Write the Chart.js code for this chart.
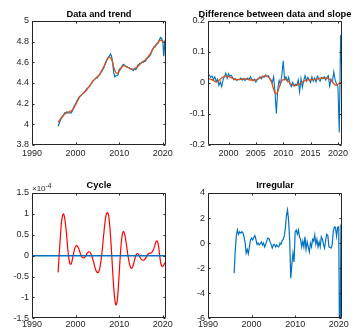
<!DOCTYPE html>
<html>
<head>
<meta charset="utf-8">
<script src="https://cdn.jsdelivr.net/npm/chart.js@4.4.1/dist/chart.umd.min.js"></script>
<style>
  body { margin: 0; background: #fff; overflow: hidden; }
  canvas { position: absolute; }
</style>
</head>
<body>
<canvas id="dataTrend" width="178" height="168" style="left:0;top:0"></canvas>
<canvas id="diffSlope" width="177" height="168" style="left:178px;top:0"></canvas>
<canvas id="cycle" width="178" height="163" style="left:0;top:168px"></canvas>
<canvas id="irregular" width="177" height="163" style="left:178px;top:168px"></canvas>
<script>
// quarterly dates, 1996Q1 .. 2020Q4
const quarters = [];
for (let y = 1996; y <= 2020; y++) {
    for (let q = 0; q < 4; q++) quarters.push(y + q / 4);
}

const logData = [
    3.98, 4.01, 4.04, 4.06, 4.07, 4.09, 4.11, 4.11, 4.12, 4.11, 4.11, 4.11, 4.11, 4.13, 4.16, 4.18,
    4.20, 4.22, 4.24, 4.26, 4.27, 4.28, 4.29, 4.30, 4.31, 4.32, 4.34, 4.35, 4.36, 4.37, 4.39, 4.40,
    4.42, 4.43, 4.44, 4.45, 4.45, 4.47, 4.48, 4.50, 4.51, 4.53, 4.55, 4.58, 4.60, 4.63, 4.65, 4.66,
    4.68, 4.66, 4.60, 4.50, 4.46, 4.47, 4.47, 4.48, 4.53, 4.54, 4.55, 4.57, 4.58, 4.57, 4.56, 4.56,
    4.55, 4.55, 4.54, 4.54, 4.53, 4.52, 4.54, 4.53, 4.54, 4.57, 4.58, 4.59, 4.59, 4.60, 4.60, 4.61,
    4.61, 4.63, 4.64, 4.65, 4.66, 4.68, 4.71, 4.73, 4.75, 4.75, 4.77, 4.78, 4.79, 4.82, 4.84, 4.83,
    4.81, 4.66, 4.81, 4.82
];

const trend = [
    4.02, 4.035, 4.05, 4.065, 4.08, 4.09, 4.10, 4.105, 4.11, 4.115, 4.12, 4.125, 4.13, 4.14, 4.15, 4.17,
    4.19, 4.21, 4.23, 4.25, 4.27, 4.28, 4.29, 4.30, 4.31, 4.32, 4.33, 4.345, 4.36, 4.375, 4.39, 4.405,
    4.42, 4.43, 4.44, 4.45, 4.46, 4.47, 4.48, 4.50, 4.52, 4.54, 4.56, 4.585, 4.61, 4.63, 4.645, 4.65,
    4.645, 4.63, 4.60, 4.555, 4.52, 4.50, 4.495, 4.50, 4.515, 4.53, 4.545, 4.56, 4.565, 4.565, 4.56, 4.555,
    4.55, 4.545, 4.54, 4.535, 4.535, 4.535, 4.54, 4.545, 4.55, 4.56, 4.57, 4.58, 4.59, 4.60, 4.61, 4.615,
    4.625, 4.635, 4.645, 4.66, 4.675, 4.69, 4.71, 4.73, 4.745, 4.76, 4.77, 4.785, 4.80, 4.81, 4.815, 4.81,
    4.80, 4.795, 4.795, 4.795
];

// first differences start one quarter later (1996Q2)
const dataDiff = [
    0.030, 0.025, 0.018,
    0.022, 0.012, 0.020, 0.005,   0.012, -0.008, 0.004, -0.012,   0.010, 0.020, 0.032, 0.015,
    0.030, 0.022, 0.025, 0.018,   0.010, 0.014, 0.008, 0.012,    0.010, 0.016, 0.009, 0.014,
    0.008, 0.012, 0.016, 0.010,   0.020, 0.012, 0.008, 0.013,    0.003, 0.010, 0.014, 0.020,
    0.013, 0.022, 0.018, 0.026,   0.020, 0.024, 0.016, 0.010,    0.002, 0.020, -0.030, -0.098,
    -0.020, 0.008, -0.004, 0.025, 0.072, 0.012, 0.020, 0.005,    0.018, -0.004, -0.012, 0.002,
    -0.010, -0.004, -0.006, 0.010, -0.028, 0.014, -0.014, 0.008, 0.024, 0.006, 0.018, 0.010,
    0.002, 0.020, 0.006, 0.016,   0.004, 0.022, 0.012, 0.006,    0.018, 0.014, 0.020, 0.010,
    0.018, 0.024, -0.010, 0.012,  0.004, 0.036, 0.010, -0.004,   -0.010, -0.160, 0.155, 0.004
];

const trendSlope = [
    0.014, 0.013, 0.012,
    0.011, 0.008, 0.005, 0.003,   0.004, 0.008, 0.012, 0.016,   0.019, 0.021, 0.022, 0.022,
    0.021, 0.019, 0.017, 0.015,   0.013, 0.012, 0.011, 0.011,   0.012, 0.012, 0.013, 0.013,
    0.013, 0.013, 0.012, 0.011,   0.010, 0.009, 0.008, 0.009,   0.010, 0.012, 0.014, 0.017,
    0.019, 0.021, 0.022, 0.022,   0.022, 0.020, 0.015, 0.007,   -0.005, -0.020, -0.032, -0.035,
    -0.028, -0.015, -0.002, 0.007, 0.011, 0.012, 0.011, 0.008,  0.004, 0.000, -0.004, -0.007,
    -0.008, -0.008, -0.007, -0.005, -0.003, 0.000, 0.003, 0.006, 0.008, 0.009, 0.010, 0.010,
    0.010, 0.010, 0.010, 0.011,   0.012, 0.013, 0.014, 0.015,   0.016, 0.016, 0.016, 0.016,
    0.015, 0.014, 0.012, 0.009,   0.004, -0.002, -0.006, -0.007, -0.004, -0.001, 0.001, 0.002
];

// cycle, in units of 1e-4
const cycle = [
    -0.40, 0.05, 0.42, 0.78,   0.95, 1.00, 0.90, 0.70,    0.42, 0.12, -0.10, -0.20,
    -0.20, -0.10, 0.03, 0.15,  0.22, 0.24, 0.22, 0.16,    0.08, 0.01, -0.04, -0.05,
    -0.05, -0.02, 0.03, 0.07,  0.09, 0.09, 0.05, -0.02,   -0.10, -0.20, -0.30, -0.37,
    -0.40, -0.40, -0.33, -0.18, 0.02, 0.28, 0.55, 0.80,   0.97, 1.03, 1.00, 0.82,
    0.50, 0.10, -0.35, -0.75,  -1.05, -1.18, -1.12, -0.85, -0.45, -0.02, 0.32, 0.52,
    0.58, 0.52, 0.38, 0.20,    0.02, -0.14, -0.25, -0.30, -0.29, -0.22, -0.12, -0.02,
    0.04, 0.05, 0.02, -0.03,   -0.08, -0.10, -0.11, -0.10, -0.07, -0.03, 0.02, 0.05,
    0.06, 0.06, 0.08, 0.12,    0.18, 0.27, 0.34, 0.35,    0.25, 0.05, -0.15, -0.25,
    -0.26, -0.22, -0.17, -0.14
];

const irregular = [
    -2.4, -0.6, 0.6, 1.05,    0.7, 0.9, 0.8, 0.9,       0.85, 0.5, 0.1, -0.8,
    -0.5, -0.85, -0.3, 0.25,  0.4, 0.25, 0.45, 0.6,     0.3, -0.1, 0.0, -0.15,
    -0.05, 0.1, -0.15, 0.0,   -0.3, -0.1, 0.2, 0.4,     0.35, 0.1, -0.1, -0.4,
    -0.15, -0.1, -0.3, -0.15, -0.25, -0.3, 0.0, -0.1,   0.2, 0.3, 0.55, 1.2,
    2.2, 2.65, 1.8, 0.2,      -2.8, -1.7, -0.8, -1.5,   0.9, 1.05, 0.7, 1.05,
    0.5, 0.3, -0.3, 0.15,     -0.3, 0.5, -0.5, 0.1,     -0.3, -0.7, 0.0, -0.3,
    0.3, 0.15, 0.65, -0.1,    0.3, -0.3, 0.1, -0.3,     0.5, 0.3, -0.1, -0.4,
    0.25, 0.7, 0.6, -0.3,     -0.35, -0.4, -0.1, 0.9,   1.3, 1.25, 0.55, 1.25,
    1.3, -12, 1.4, 1.3
];

const yearTicksWide = { min: 1990, max: 2020.75, step: 10 };
const yearTicksNarrow = { min: 1996.25, max: 2020.75, step: 5 };

const blue = '#0072BD';
const orange = '#D95319';
const red = '#FF0000';
const axisGray = '#262626';
const fontFamily = '"Liberation Sans", Arial, Helvetica, sans-serif';

const pts = (xs, ys) => ys.map((v, i) => ({ x: xs[i], y: v }));
// 4 rather than 4.0, like matlab does
const plainNumber = v => String(Math.round(v * 1e6) / 1e6);

// matlab-like box: full frame plus short ticks pointing inwards
const boxAndTicks = {
    id: 'boxAndTicks',
    afterDatasetsDraw(chart) {
        const { ctx, chartArea: a, scales: { x, y } } = chart;
        const L = Math.round(a.left) + 0.5, R = Math.round(a.right) - 0.5;
        const T = Math.round(a.top) + 0.5, B = Math.round(a.bottom) - 0.5;
        ctx.save();
        ctx.strokeStyle = axisGray;
        ctx.lineWidth = 1;
        ctx.beginPath();
        ctx.rect(L, T, R - L, B - T);
        x.ticks.forEach(t => {
            const px = Math.round(x.getPixelForValue(t.value)) + 0.5;
            ctx.moveTo(px, B); ctx.lineTo(px, B - 2);
            ctx.moveTo(px, T); ctx.lineTo(px, T + 2);
        });
        y.ticks.forEach(t => {
            const py = Math.round(y.getPixelForValue(t.value)) + 0.5;
            ctx.moveTo(L, py); ctx.lineTo(L + 2, py);
            ctx.moveTo(R, py); ctx.lineTo(R - 2, py);
        });
        ctx.stroke();
        ctx.restore();
    }
};

// bold title centred over the plot area, optional x10^n multiplier
const panelTitle = {
    id: 'panelTitle',
    afterDraw(chart, args, opts) {
        const { ctx, chartArea: a } = chart;
        ctx.save();
        ctx.fillStyle = '#000';
        ctx.font = 'bold 9.3px ' + fontFamily;
        ctx.textAlign = 'center';
        ctx.textBaseline = 'middle';
        ctx.fillText(opts.text, (a.left + a.right) / 2, opts.y);
        if (opts.exponent) {
            ctx.fillStyle = axisGray;
            ctx.textAlign = 'left';
            ctx.textBaseline = 'alphabetic';
            ctx.font = '8px ' + fontFamily;
            const base = '\u00d710';
            ctx.fillText(base, a.left, a.top - 2);
            const w = ctx.measureText(base).width;
            ctx.font = '6.5px ' + fontFamily;
            ctx.fillText(opts.exponent, a.left + w, a.top - 5.5);
        }
        ctx.restore();
    }
};

function makePanel(id, datasets, xr, yr, title, box) {
    const canvas = document.getElementById(id);
    return new Chart(canvas, {
        type: 'line',
        data: { datasets },
        plugins: [boxAndTicks, panelTitle],
        options: {
            responsive: false,
            animation: false,
            devicePixelRatio: 1,
            layout: { padding: { top: box.top, right: box.right, bottom: 0, left: 0 } },
            elements: { point: { radius: 0 } },
            scales: {
                x: {
                    type: 'linear',
                    min: xr.min,
                    max: xr.max,
                    grid: { display: false, drawTicks: false },
                    border: { display: false },
                    ticks: {
                        stepSize: xr.step,
                        includeBounds: false,
                        maxRotation: 0,
                        padding: box.xPad,
                        color: axisGray,
                        font: { family: fontFamily, size: 9 },
                        callback: plainNumber
                    },
                    afterFit: s => { s.height = box.xHeight; }
                },
                y: {
                    min: yr.min,
                    max: yr.max,
                    grid: { display: false, drawTicks: false },
                    border: { display: false },
                    ticks: {
                        stepSize: yr.step,
                        padding: 3,
                        color: axisGray,
                        font: { family: fontFamily, size: 9 },
                        callback: plainNumber
                    },
                    afterFit: s => { s.width = box.left; }
                }
            },
            plugins: {
                legend: { display: false },
                tooltip: { enabled: false },
                panelTitle: title
            }
        }
    });
}

const topBox = { top: 21, xHeight: 23, xPad: 3.5 };
const bottomBox = { top: 25, xHeight: 12.7, xPad: 0.5 };

makePanel('dataTrend', [
    { data: pts(quarters, trend), borderColor: orange, borderWidth: 1.3, tension: 0.3 },
    { data: pts(quarters, logData), borderColor: blue, borderWidth: 1.2 }
], yearTicksWide, { min: 3.8, max: 5, step: 0.2 },
   { text: 'Data and trend', y: 14 },
   Object.assign({ left: 32, right: 12 }, topBox));

makePanel('diffSlope', [
    { data: pts(quarters.slice(1), trendSlope), borderColor: orange, borderWidth: 1.3, tension: 0.3 },
    { data: pts(quarters.slice(1), dataDiff), borderColor: blue, borderWidth: 1.1 }
], yearTicksNarrow, { min: -0.2, max: 0.2, step: 0.1 },
   { text: 'Difference between data and slope', y: 14 },
   Object.assign({ left: 30, right: 13 }, topBox));

makePanel('cycle', [
    { data: [{ x: yearTicksWide.min, y: 0 }, { x: yearTicksWide.max, y: 0 }], borderColor: blue, borderWidth: 1.5 },
    { data: pts(quarters, cycle), borderColor: red, borderWidth: 1.2, tension: 0.4 }
], yearTicksWide, { min: -1.5, max: 1.5, step: 0.5 },
   { text: 'Cycle', y: 17.7, exponent: '-4' },
   Object.assign({ left: 32, right: 12 }, bottomBox));

makePanel('irregular', [
    { data: pts(quarters, irregular), borderColor: blue, borderWidth: 1.2 }
], yearTicksWide, { min: -6, max: 4, step: 2 },
   { text: 'Irregular', y: 17.7 },
   Object.assign({ left: 30, right: 13 }, bottomBox));
</script>
</body>
</html>
